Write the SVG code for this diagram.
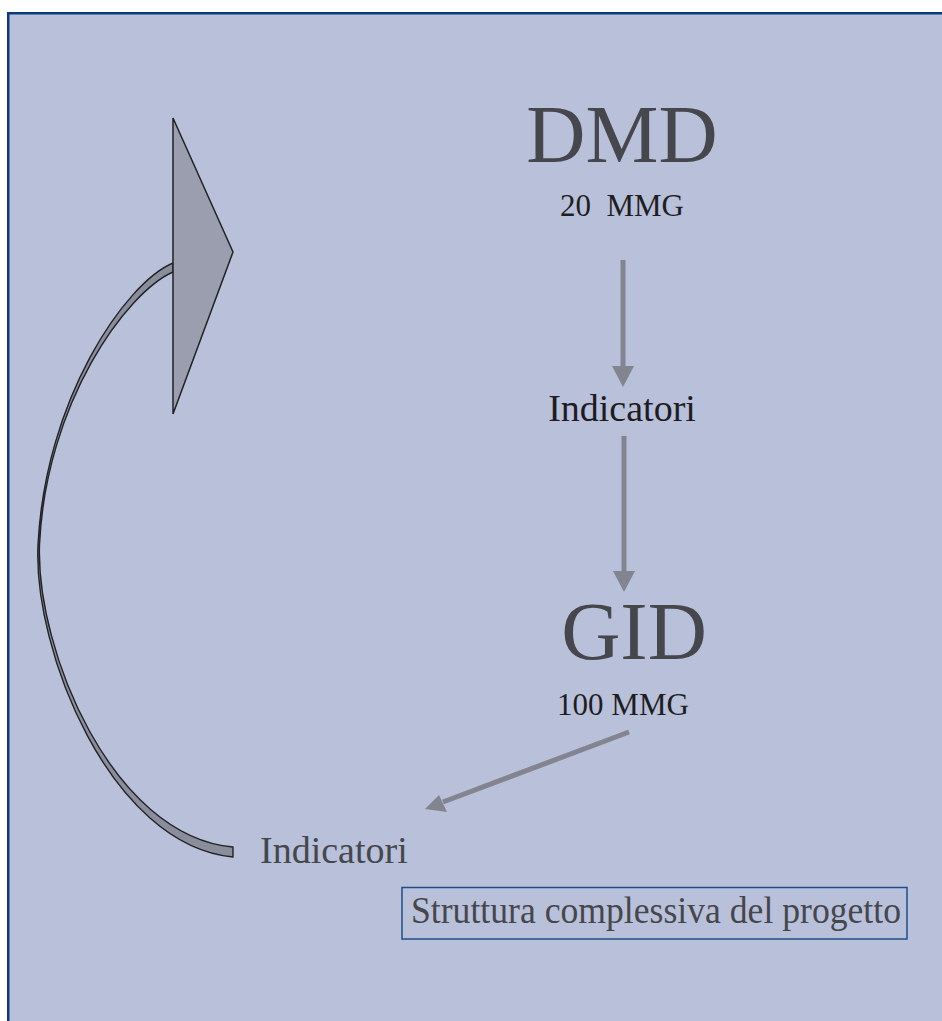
<svg xmlns="http://www.w3.org/2000/svg" width="942" height="1021" viewBox="0 0 942 1021">
<defs>
<style>
.t{font-family:"Liberation Serif","Times New Roman",serif;}
.big{font-size:82px;fill:#46474D;}
.sub{font-size:31px;fill:#1E1E22;white-space:pre;}
.lab{font-size:38px;}
.conn{stroke:#82858F;stroke-width:5;fill:none;}
.head{fill:#82858F;}
</style>
</defs>
<rect x="0" y="0" width="942" height="1021" fill="#FFFFFF"/>
<rect id="frame" x="8.25" y="13.25" width="960" height="1040" fill="#B8C0DA" stroke="#0A3A78" stroke-width="2.5"/>

<g id="connectors">
<line x1="623" y1="260" x2="623" y2="368" class="conn"/>
<path d="M612,366 L634,366 L623,387 Z" class="head"/>
<line x1="624" y1="436" x2="624" y2="573" class="conn"/>
<path d="M613,571 L635,571 L624,592 Z" class="head"/>
<line x1="629" y1="732" x2="443" y2="802" class="conn"/>
<path d="M425,809 L439,795 L447,812 Z" class="head"/>
</g>

<g id="loop-arrow">
<path d="M173,263 C125,283 45,400 38,545 C33,650 110,845 233,857 L233,847 C112,836 36,650 39.5,545 C46,402 127,292 173,272 Z" fill="#8A8D9B" stroke="#222226" stroke-width="1.4" stroke-linejoin="round"/>
<path d="M173,118 L233,252 L173,414 Z" fill="#9A9EAE" stroke="#222226" stroke-width="1.5" stroke-linejoin="miter"/>
</g>

<g id="node-dmd">
<text class="t big" x="622" y="162" text-anchor="middle">DMD</text>
<text class="t sub" x="622" y="216" text-anchor="middle" font-size="32">20  MMG</text>
</g>

<g id="node-indicatori-1">
<text class="t lab" x="622" y="421" text-anchor="middle" fill="#1E1C22">Indicatori</text>
</g>

<g id="node-gid">
<text class="t big" x="634" y="659" text-anchor="middle">GID</text>
<text class="t sub" x="623" y="715" text-anchor="middle">100 MMG</text>
</g>

<g id="node-indicatori-2">
<text class="t lab" x="260" y="863" fill="#46474D">Indicatori</text>
</g>

<g id="node-title">
<rect x="402" y="887.5" width="505" height="51.5" fill="none" stroke="#1F4E8A" stroke-width="1.5"/>
<text class="t" x="411" y="923" font-size="37" fill="#46474D" textLength="490" lengthAdjust="spacingAndGlyphs">Struttura complessiva del progetto</text>
</g>
</svg>
